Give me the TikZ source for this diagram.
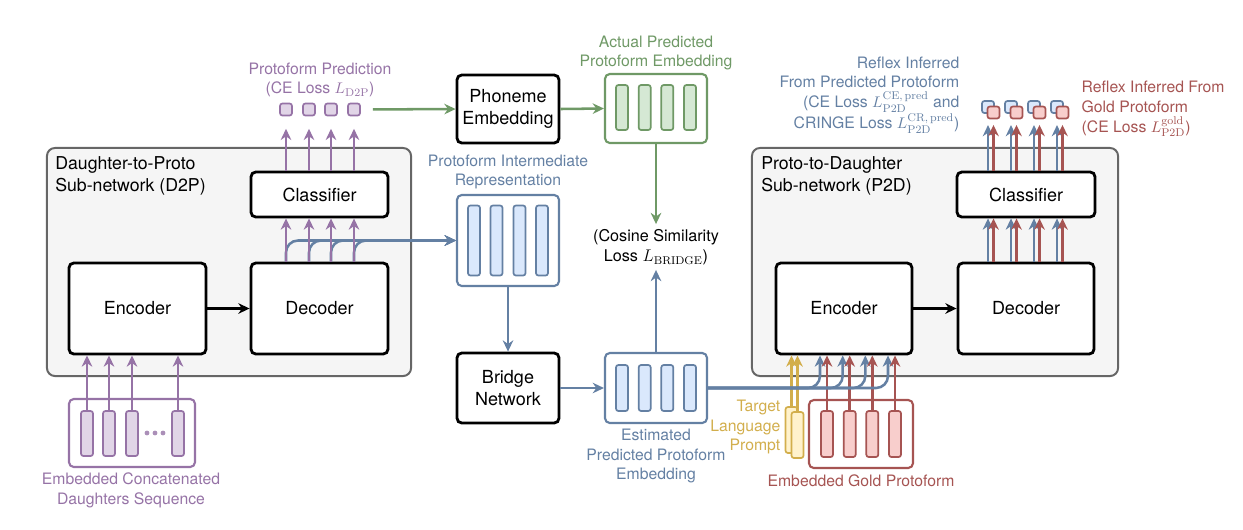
\documentclass[tikz,border=0pt]{standalone}
\usepackage[no-math]{fontspec}
\setmainfont{TeX Gyre Heros}
\usetikzlibrary{arrows.meta,calc}

\definecolor{purp}{HTML}{9673A6}
\definecolor{purpfill}{HTML}{E1D5E7}
\definecolor{grn}{HTML}{6F9966}
\definecolor{grnfill}{HTML}{D5E8D4}
\definecolor{blu}{HTML}{6480A3}
\definecolor{blufill}{HTML}{DAE8FC}
\definecolor{rd}{HTML}{A65452}
\definecolor{rdfill}{HTML}{F8CECC}
\definecolor{ylw}{HTML}{D2AE4C}
\definecolor{ylwfill}{HTML}{FFF2CC}
\definecolor{netgray}{HTML}{666666}
\definecolor{netfill}{HTML}{F5F5F5}

\begin{document}
\begin{tikzpicture}[x=0.025cm, y=-0.025cm,
    subnet/.style={rectangle, rounded corners=0.2cm, draw=netgray, fill=netfill, line width=1.4pt},
    block/.style={rectangle, rounded corners=0.12cm, draw=black, fill=white, line width=2pt, align=center, font=\fontsize{12.8}{15.5}\selectfont},
    holder/.style={rectangle, rounded corners=0.12cm, line width=1.5pt, fill=white},
    bar/.style={rectangle, rounded corners=0.06cm, line width=1.2pt, minimum width=0.3cm, inner sep=0pt},
    tok/.style={rectangle, rounded corners=0.06cm, line width=1.2pt, minimum size=0.3cm, inner sep=0pt},
    title/.style={anchor=west, align=left, inner sep=0pt, font=\fontsize{12.6}{16}\selectfont},
    lbl/.style={align=center, inner sep=1pt, font=\fontsize{11.2}{14}\selectfont},
    arr/.style={line width=1.8pt, -{Stealth[length=8pt,width=7.5pt]}},
]
    \useasboundingbox (0,0) rectangle (1243,529);

    % sub-networks
    \node[subnet, minimum width=9.1cm, minimum height=5.7cm] (d2p) at (229,262) {};
    \node[subnet, minimum width=9.15cm, minimum height=5.7cm] (p2d) at (935,262) {};
    \node[title] (d2ptitle) at (55,176) {Daughter-to-Proto\\Sub-network (D2P)};
    \node[title] (p2dtitle) at (761,176) {Proto-to-Daughter\\Sub-network (P2D)};

    % D2P
    \node[block, minimum width=3.425cm, minimum height=1.125cm] (d2pcls) at (319.5,194.5) {Classifier};
    \node[block, minimum width=3.425cm, minimum height=2.275cm] (d2penc) at (137.5,308.5) {Encoder};
    \node[block, minimum width=3.425cm, minimum height=2.275cm] (d2pdec) at (319.5,308.5) {Decoder};
    \draw[arr, black] (d2penc) -- (d2pdec);

    \node[holder, draw=purp, minimum width=3.15cm, minimum height=1.7cm] (daug) at (132,433) {};
    \foreach \x [count=\i] in {87,109,132,178}
        \node[bar, draw=purp, fill=purpfill, minimum height=1.125cm] (db\i) at (\x,433.5) {};
    \foreach \x in {147,155,163}
        \fill[purp!80] (\x,433) circle (1.7pt);
    \node[lbl, text=purp] (dauglbl) at (131,490) {Embedded Concatenated\\Daughters Sequence};
    \foreach \i in {1,...,4}
        \draw[arr, purp] (db\i.north) -- (db\i |- d2penc.south);

    \foreach \x [count=\i] in {286,309,331,354}
        \node[tok, draw=purp, fill=purpfill] (ps\i) at (\x,109.5) {};
    \node[lbl, text=purp] (predlbl) at (320,80) {Protoform Prediction\\(CE Loss $L_{\mathrm{D2P}}$)};

    % intermediate representation
    \node[holder, draw=blu, minimum width=2.55cm, minimum height=2.275cm] (inter) at (508,240.5) {};
    \foreach \x [count=\i] in {474,496.5,519.5,542}
        \node[bar, draw=blu, fill=blufill, minimum height=1.75cm] (ib\i) at (\x,240.5) {};
    \node[lbl, text=blu] (interlbl) at (508,172) {Protoform Intermediate\\Representation};
    \foreach \i in {1,...,4}
        \draw[arr, blu, rounded corners=0.3cm] (ps\i |- d2pdec.north) |- (inter.west);

    \foreach \i in {1,...,4} {
        \draw[arr, purp] (ps\i |- d2pdec.north) -- (ps\i |- d2pcls.south);
        \draw[arr, purp, shorten >=0.31cm] (ps\i |- d2pcls.north) -- (ps\i.south);
    }

    % phoneme embedding and bridge
    \node[block, minimum width=2.55cm, minimum height=1.7cm] (phon) at (508,109) {Phoneme\\Embedding};
    \node[holder, draw=grn, minimum width=2.55cm, minimum height=1.725cm] (actual) at (656,108.5) {};
    \foreach \x [count=\i] in {622,644.7,667.3,690}
        \node[bar, draw=grn, fill=grnfill, minimum height=1.125cm] (ab\i) at (\x,107.5) {};
    \node[lbl, text=grn] (actlbl) at (656,53) {Actual Predicted\\Protoform Embedding};
    \draw[arr, grn, shorten <=0.3cm] (ps4.east) -- (phon.west);
    \draw[arr, grn] (phon.east) -- (actual.west);

    \node[align=center, font=\fontsize{11.5}{14.5}\selectfont] (cos) at (656,247) {(Cosine Similarity\\Loss $L_{\mathrm{BRIDGE}}$)};
    \draw[arr, grn] (actual.south) -- (cos.north);

    \node[block, minimum width=2.55cm, minimum height=1.75cm] (bridge) at (508,388) {Bridge\\Network};
    \node[holder, draw=blu, minimum width=2.55cm, minimum height=1.75cm] (est) at (656,388) {};
    \foreach \x [count=\i] in {622,644.7,667.3,690}
        \node[bar, draw=blu, fill=blufill, minimum height=1.15cm] (eb\i) at (\x,388) {};
    \node[lbl, text=blu] (estlbl) at (656,456) {Estimated\\Predicted Protoform\\Embedding};
    \draw[arr, blu] (inter.south) -- (bridge.north);
    \draw[arr, blu] (bridge.east) -- (est.west);
    \draw[arr, blu] (est.north) -- (cos.south);

    % P2D
    \node[block, minimum width=3.45cm, minimum height=1.125cm] (p2dcls) at (1026,194.5) {Classifier};
    \node[block, minimum width=3.4cm, minimum height=2.275cm] (p2denc) at (844,308.5) {Encoder};
    \node[block, minimum width=3.4cm, minimum height=2.275cm] (p2ddec) at (1026,308.5) {Decoder};
    \draw[arr, black] (p2denc) -- (p2ddec);

    \node[holder, draw=rd, minimum width=2.6cm, minimum height=1.7cm] (gold) at (861,434) {};
    \foreach \x [count=\i] in {827,849.7,872.3,895}
        \node[bar, draw=rd, fill=rdfill, minimum height=1.15cm] (gb\i) at (\x,434) {};
    \node[lbl, text=rd] (goldlbl) at (861,481) {Embedded Gold Protoform};

    \node[bar, draw=ylw, fill=ylwfill, minimum height=1.15cm] (tp1) at (791.5,430) {};
    \node[bar, draw=ylw, fill=ylwfill, minimum height=1.15cm] (tp2) at (797.5,435) {};
    \node[lbl, text=ylw, anchor=east, align=right] (tplbl) at (782,427) {Target\\Language\\Prompt};
    \draw[arr, ylw] (tp1.north) -- (tp1 |- p2denc.south);
    \draw[arr, ylw] (tp2.north) -- (tp2 |- p2denc.south);

    \foreach \i in {1,...,4} {
        \draw[arr, blu, rounded corners=0.3cm] (est.east) -| ($(gb\i.north |- p2denc.south)+(-7,0)$);
        \draw[arr, rd] (gb\i.north) -- (gb\i |- p2denc.south);
    }

    \foreach \x [count=\i] in {988,1011,1034,1057} {
        \node[tok, draw=blu, fill=blufill] (bq\i) at (\x,107) {};
        \node[tok, draw=rd, fill=rdfill] (rq\i) at (\x+5.5,112.5) {};
    }
    \foreach \i in {1,...,4} {
        \draw[arr, blu] (bq\i |- p2ddec.north) -- (bq\i |- p2dcls.south);
        \draw[arr, rd] (rq\i |- p2ddec.north) -- (rq\i |- p2dcls.south);
        \draw[arr, blu, shorten >=0.28cm] (bq\i |- p2dcls.north) -- (bq\i.south);
        \draw[arr, rd, shorten >=0.14cm] (rq\i |- p2dcls.north) -- (rq\i.south);
    }
    \node[lbl, text=blu, anchor=east, align=right] (reflbl) at (961,95) {Reflex Inferred\\From Predicted Protoform\\(CE Loss $L^{\mathrm{CE,\,pred}}_{\mathrm{P2D}}$ and\\CRINGE Loss $L^{\mathrm{CR,\,pred}}_{\mathrm{P2D}}$)};
    \node[lbl, text=rd, anchor=west, align=left] (goldoutlbl) at (1080,109) {Reflex Inferred From\\Gold Protoform\\(CE Loss $L^{\mathrm{gold}}_{\mathrm{P2D}}$)};
\end{tikzpicture}
\end{document}
